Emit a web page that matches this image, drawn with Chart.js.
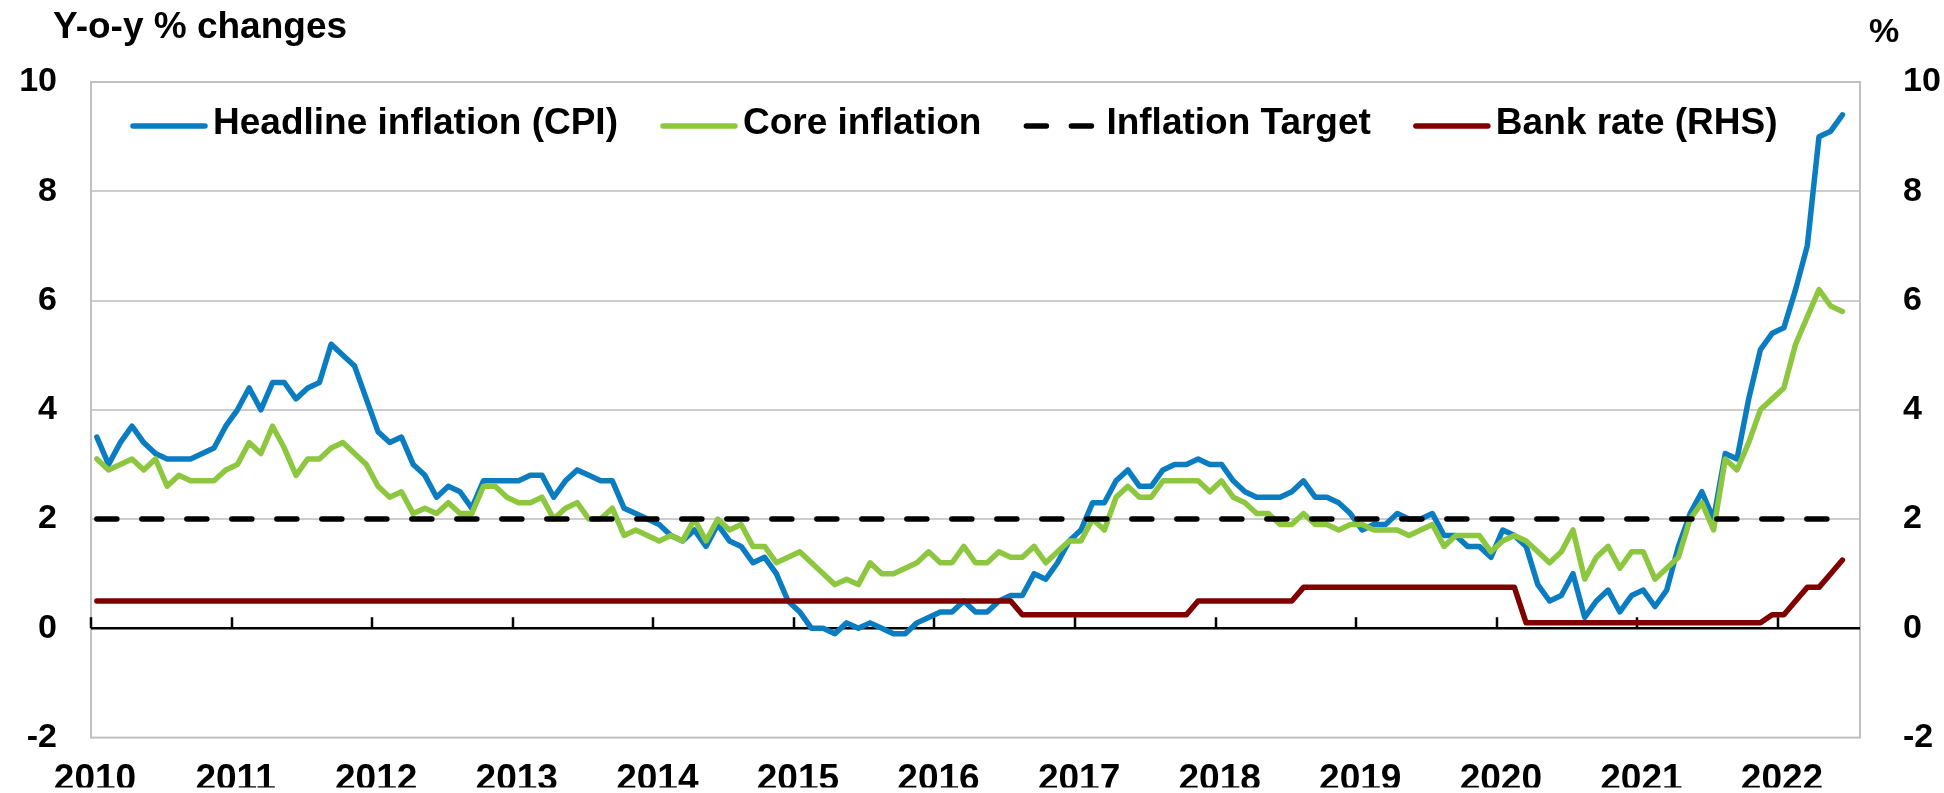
<!DOCTYPE html>
<html>
<head>
<meta charset="utf-8">
<title>UK inflation and Bank rate</title>
<script src="https://cdn.jsdelivr.net/npm/chart.js@4.4.0/dist/chart.umd.min.js"></script>
<style>
  html, body { margin: 0; padding: 0; background: #fff; }
  #wrap { width: 1944px; height: 793px; }
</style>
</head>
<body>
<div id="wrap"><canvas id="myChart" width="1944" height="793"></canvas></div>
<script>
    "use strict";

    // x axis: one slot per month from Jan 2010, labels on each January
    var years = ["2010", "2011", "2012", "2013", "2014", "2015", "2016",
                 "2017", "2018", "2019", "2020", "2021", "2022"];
    var monthNames = ["Jan", "Feb", "Mar", "Apr", "May", "Jun",
                      "Jul", "Aug", "Sep", "Oct", "Nov", "Dec"];

    // CPI, y-o-y %
    var headline = [
        3.5, 3.0, 3.4, 3.7, 3.4, 3.2, 3.1, 3.1, 3.1, 3.2, 3.3, 3.7,
        4.0, 4.4, 4.0, 4.5, 4.5, 4.2, 4.4, 4.5, 5.2, 5.0, 4.8, 4.2,
        3.6, 3.4, 3.5, 3.0, 2.8, 2.4, 2.6, 2.5, 2.2, 2.7, 2.7, 2.7,
        2.7, 2.8, 2.8, 2.4, 2.7, 2.9, 2.8, 2.7, 2.7, 2.2, 2.1, 2.0,
        1.9, 1.7, 1.6, 1.8, 1.5, 1.9, 1.6, 1.5, 1.2, 1.3, 1.0, 0.5,
        0.3, 0.0, 0.0, -0.1, 0.1, 0.0, 0.1, 0.0, -0.1, -0.1, 0.1, 0.2,
        0.3, 0.3, 0.5, 0.3, 0.3, 0.5, 0.6, 0.6, 1.0, 0.9, 1.2, 1.6,
        1.8, 2.3, 2.3, 2.7, 2.9, 2.6, 2.6, 2.9, 3.0, 3.0, 3.1, 3.0,
        3.0, 2.7, 2.5, 2.4, 2.4, 2.4, 2.5, 2.7, 2.4, 2.4, 2.3, 2.1,
        1.8, 1.9, 1.9, 2.1, 2.0, 2.0, 2.1, 1.7, 1.7, 1.5, 1.5, 1.3,
        1.8, 1.7, 1.5, 0.8, 0.5, 0.6, 1.0, 0.2, 0.5, 0.7, 0.3, 0.6,
        0.7, 0.4, 0.7, 1.5, 2.1, 2.5, 2.0, 3.2, 3.1, 4.2, 5.1, 5.4,
        5.5, 6.2, 7.0, 9.0, 9.1, 9.4
    ];

    // core CPI, y-o-y %
    var core = [
        3.1, 2.9, 3.0, 3.1, 2.9, 3.1, 2.6, 2.8, 2.7, 2.7, 2.7, 2.9,
        3.0, 3.4, 3.2, 3.7, 3.3, 2.8, 3.1, 3.1, 3.3, 3.4, 3.2, 3.0,
        2.6, 2.4, 2.5, 2.1, 2.2, 2.1, 2.3, 2.1, 2.1, 2.6, 2.6, 2.4,
        2.3, 2.3, 2.4, 2.0, 2.2, 2.3, 2.0, 2.0, 2.2, 1.7, 1.8, 1.7,
        1.6, 1.7, 1.6, 2.0, 1.6, 2.0, 1.8, 1.9, 1.5, 1.5, 1.2, 1.3,
        1.4, 1.2, 1.0, 0.8, 0.9, 0.8, 1.2, 1.0, 1.0, 1.1, 1.2, 1.4,
        1.2, 1.2, 1.5, 1.2, 1.2, 1.4, 1.3, 1.3, 1.5, 1.2, 1.4, 1.6,
        1.6, 2.0, 1.8, 2.4, 2.6, 2.4, 2.4, 2.7, 2.7, 2.7, 2.7, 2.5,
        2.7, 2.4, 2.3, 2.1, 2.1, 1.9, 1.9, 2.1, 1.9, 1.9, 1.8, 1.9,
        1.9, 1.8, 1.8, 1.8, 1.7, 1.8, 1.9, 1.5, 1.7, 1.7, 1.7, 1.4,
        1.6, 1.7, 1.6, 1.4, 1.2, 1.4, 1.8, 0.9, 1.3, 1.5, 1.1, 1.4,
        1.4, 0.9, 1.1, 1.3, 2.0, 2.3, 1.8, 3.1, 2.9, 3.4, 4.0, 4.2,
        4.4, 5.2, 5.7, 6.2, 5.9, 5.8
    ];

    // inflation target, %
    var target = [
        2, 2, 2, 2, 2, 2, 2, 2, 2, 2, 2, 2,
        2, 2, 2, 2, 2, 2, 2, 2, 2, 2, 2, 2,
        2, 2, 2, 2, 2, 2, 2, 2, 2, 2, 2, 2,
        2, 2, 2, 2, 2, 2, 2, 2, 2, 2, 2, 2,
        2, 2, 2, 2, 2, 2, 2, 2, 2, 2, 2, 2,
        2, 2, 2, 2, 2, 2, 2, 2, 2, 2, 2, 2,
        2, 2, 2, 2, 2, 2, 2, 2, 2, 2, 2, 2,
        2, 2, 2, 2, 2, 2, 2, 2, 2, 2, 2, 2,
        2, 2, 2, 2, 2, 2, 2, 2, 2, 2, 2, 2,
        2, 2, 2, 2, 2, 2, 2, 2, 2, 2, 2, 2,
        2, 2, 2, 2, 2, 2, 2, 2, 2, 2, 2, 2,
        2, 2, 2, 2, 2, 2, 2, 2, 2, 2, 2, 2,
        2, 2, 2, 2, 2, 2
    ];

    // Bank rate, % (RHS)
    var bankRate = [
        0.5, 0.5, 0.5, 0.5, 0.5, 0.5, 0.5, 0.5, 0.5, 0.5, 0.5, 0.5,
        0.5, 0.5, 0.5, 0.5, 0.5, 0.5, 0.5, 0.5, 0.5, 0.5, 0.5, 0.5,
        0.5, 0.5, 0.5, 0.5, 0.5, 0.5, 0.5, 0.5, 0.5, 0.5, 0.5, 0.5,
        0.5, 0.5, 0.5, 0.5, 0.5, 0.5, 0.5, 0.5, 0.5, 0.5, 0.5, 0.5,
        0.5, 0.5, 0.5, 0.5, 0.5, 0.5, 0.5, 0.5, 0.5, 0.5, 0.5, 0.5,
        0.5, 0.5, 0.5, 0.5, 0.5, 0.5, 0.5, 0.5, 0.5, 0.5, 0.5, 0.5,
        0.5, 0.5, 0.5, 0.5, 0.5, 0.5, 0.5, 0.25, 0.25, 0.25, 0.25, 0.25,
        0.25, 0.25, 0.25, 0.25, 0.25, 0.25, 0.25, 0.25, 0.25, 0.25, 0.5, 0.5,
        0.5, 0.5, 0.5, 0.5, 0.5, 0.5, 0.5, 0.75, 0.75, 0.75, 0.75, 0.75,
        0.75, 0.75, 0.75, 0.75, 0.75, 0.75, 0.75, 0.75, 0.75, 0.75, 0.75, 0.75,
        0.75, 0.75, 0.1, 0.1, 0.1, 0.1, 0.1, 0.1, 0.1, 0.1, 0.1, 0.1,
        0.1, 0.1, 0.1, 0.1, 0.1, 0.1, 0.1, 0.1, 0.1, 0.1, 0.1, 0.25,
        0.25, 0.5, 0.75, 0.75, 1.0, 1.25
    ];

    var yTicks = [-2, 0, 2, 4, 6, 8, 10];

    var months = [];
    years.forEach(function (y) {
        monthNames.forEach(function (m) { months.push(m + " " + y); });
    });

    // each value sits in the middle of its month slot
    function toPoints(values) {
        return values.map(function (v, i) { return { x: i + 0.5, y: v }; });
    }

    var FONT = "'Liberation Sans', Arial, sans-serif";
    Chart.defaults.font.family = FONT;
    Chart.defaults.color = "#000";

    // gray frame round the plot, black zero line with year ticks pointing up
    var plotFrame = {
        id: "plotFrame",
        beforeDatasetsDraw: function (chart) {
            var ctx = chart.ctx, a = chart.chartArea;
            var x = chart.scales.x, y = chart.scales.y;
            ctx.save();
            ctx.strokeStyle = "#c0c0c0";
            ctx.lineWidth = 2;
            ctx.strokeRect(a.left, a.top, a.right - a.left, a.bottom - a.top);
            var y0 = y.getPixelForValue(0);
            ctx.strokeStyle = "#000";
            ctx.lineWidth = 2.5;
            ctx.beginPath();
            ctx.moveTo(a.left, y0);
            ctx.lineTo(a.right, y0);
            x.ticks.forEach(function (t) {
                if (t.value % 12 === 0) {
                    var px = Math.round(x.getPixelForValue(t.value));
                    ctx.moveTo(px, y0);
                    ctx.lineTo(px, y0 - 11);
                }
            });
            ctx.stroke();
            ctx.restore();
        }
    };

    // legend drawn inside the plot area, plus the two axis captions
    var insideLegend = {
        id: "insideLegend",
        afterDraw: function (chart) {
            var ctx = chart.ctx, a = chart.chartArea;
            ctx.save();
            ctx.fillStyle = "#000";
            ctx.textBaseline = "alphabetic";
            ctx.font = "bold 37px " + FONT;
            ctx.textAlign = "left";
            ctx.fillText("Y-o-y % changes", 53, 38);
            ctx.font = "bold 34px " + FONT;
            ctx.textAlign = "center";
            ctx.fillText("%", 1884, 42);

            ctx.font = "bold 37px " + FONT;
            ctx.textAlign = "left";
            ctx.textBaseline = "middle";
            var x = a.left + 42, lineY = a.top + 44, textY = a.top + 42;
            chart.data.datasets.forEach(function (ds) {
                ctx.strokeStyle = ds.borderColor;
                ctx.lineWidth = ds.borderWidth;
                ctx.lineCap = "round";
                ctx.setLineDash(ds.borderDash || []);
                ctx.beginPath();
                ctx.moveTo(x, lineY);
                ctx.lineTo(x + 72, lineY);
                ctx.stroke();
                ctx.setLineDash([]);
                x += 72 + 8;
                ctx.fillText(ds.label, x, textY);
                x += ctx.measureText(ds.label).width + 45;
            });
            ctx.restore();
        }
    };

    var tickFont = { family: FONT, size: 34, weight: "bold" };

    var ctx = document.getElementById("myChart");
    var myChart = new Chart(ctx, {
        type: "line",
        data: {
            labels: months,
            datasets: [
                {
                    label: "Headline inflation (CPI)",
                    data: toPoints(headline),
                    borderColor: "#0a7cc1",
                    borderWidth: 5.5,
                    yAxisID: "y",
                    order: 3,
                },
                {
                    label: "Core inflation",
                    data: toPoints(core),
                    borderColor: "#8dc63f",
                    borderWidth: 5.5,
                    yAxisID: "y",
                    order: 2,
                },
                {
                    label: "Inflation Target",
                    data: toPoints(target),
                    borderColor: "#000000",
                    borderWidth: 5.5,
                    borderDash: [20, 25],
                    yAxisID: "y",
                    order: 1,
                },
                {
                    label: "Bank rate (RHS)",
                    data: toPoints(bankRate),
                    borderColor: "#800000",
                    borderWidth: 5.5,
                    yAxisID: "y2",
                    order: 0,
                },
            ],
        },
        options: {
            responsive: false,
            animation: false,
            devicePixelRatio: 1,
            elements: {
                point: { radius: 0, hoverRadius: 0 },
                line: { tension: 0, borderCapStyle: "round", borderJoinStyle: "round", fill: false },
            },
            layout: { padding: { top: 82, left: 0, right: 0, bottom: 0 } },
            plugins: {
                legend: { display: false },
                tooltip: { enabled: false },
            },
            scales: {
                x: {
                    type: "linear",
                    min: 0,
                    max: 151,
                    grid: { display: false },
                    border: { display: false },
                    ticks: {
                        stepSize: 12,
                        includeBounds: false,
                        autoSkip: false,
                        maxRotation: 0,
                        padding: 12,
                        labelOffset: 4,
                        font: { family: FONT, size: 37, weight: "bold" },
                        callback: function (v) {
                            return v % 12 === 0 ? years[v / 12] : "";
                        },
                    },
                    afterFit: function (s) { s.height = 50; },
                },
                y: {
                    position: "left",
                    min: yTicks[0],
                    max: yTicks[yTicks.length - 1],
                    grid: {
                        drawTicks: false,
                        lineWidth: 2,
                        color: function (c) {
                            var v = c.tick.value;
                            return (v === 0 || v === yTicks[0] || v === yTicks[yTicks.length - 1]) ? "rgba(0,0,0,0)" : "#cdcdcd";
                        },
                    },
                    border: { display: false },
                    ticks: { stepSize: 2, padding: 34, font: tickFont },
                    afterFit: function (s) { s.width = 91; },
                },
                y2: {
                    position: "right",
                    min: yTicks[0],
                    max: yTicks[yTicks.length - 1],
                    grid: { display: false },
                    border: { display: false },
                    ticks: { stepSize: 2, padding: 35, font: tickFont },
                    afterFit: function (s) { s.width = 84; },
                },
            },
        },
        plugins: [plotFrame, insideLegend],
    });
</script>
</body>
</html>
